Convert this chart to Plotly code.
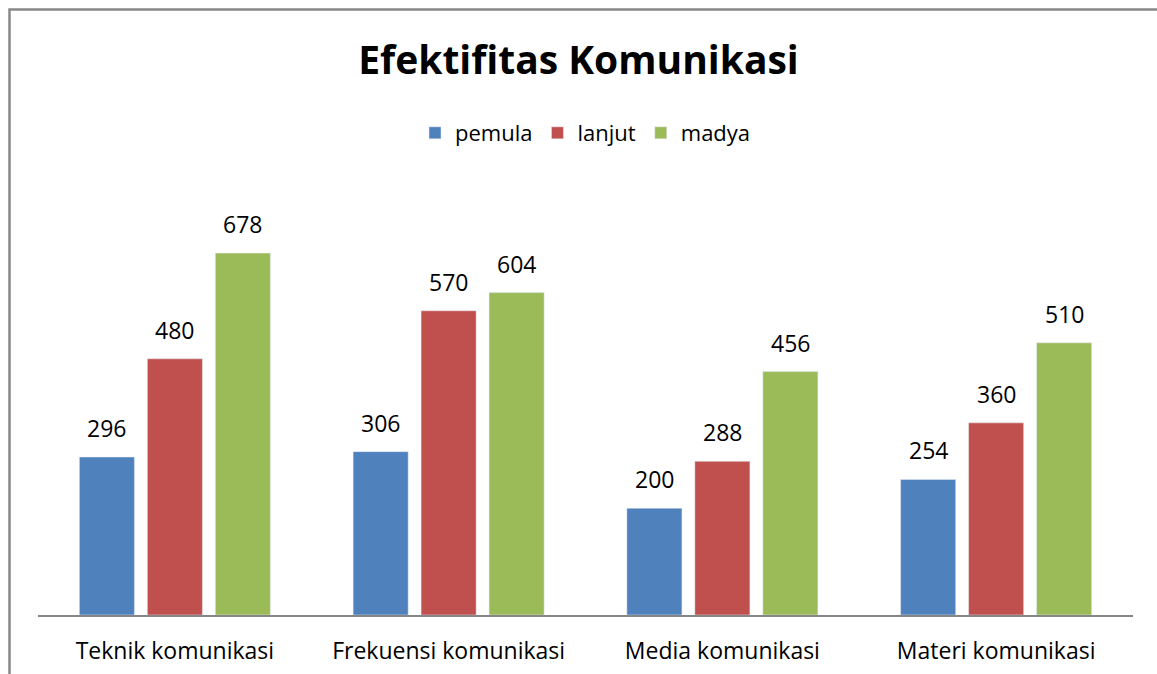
import plotly.graph_objects as go

categories = ["Teknik komunikasi", "Frekuensi komunikasi", "Media komunikasi", "Materi komunikasi"]
pemula = [296, 306, 200, 254]
lanjut = [480, 570, 288, 360]
madya = [678, 604, 456, 510]

FONT = "Open Sans"
W, H = 1157, 674
L, R, T, B = 38, 24, 188, 59

series = [("pemula", pemula, "#4F81BD"), ("lanjut", lanjut, "#C0504D"), ("madya", madya, "#9BBB59")]
shifts = [-68, 0, 68]

fig = go.Figure()
annotations = []
for (name, vals, col), xs in zip(series, shifts):
    fig.add_trace(go.Bar(x=categories, y=vals, name=name, marker_color=col))
    for c, v in zip(categories, vals):
        annotations.append(dict(x=c, y=v, xref="x", yref="y", text=str(v), showarrow=False,
                                xshift=xs, yshift=11, yanchor="bottom",
                                font=dict(family=FONT, size=23, color="#000000")))

pw = W - L - R
ph = H - T - B
fig.update_layout(
    width=W, height=H,
    margin=dict(l=L, r=R, t=T, b=B, autoexpand=False),
    paper_bgcolor="white", plot_bgcolor="white",
    barmode="group", bargap=0.255, bargroupgap=0.19,
    title=dict(text="<b>Efektifitas Komunikasi</b>", x=0.5, xanchor="center",
               y=1 - 60 / H, yanchor="middle",
               font=dict(family=FONT, size=39, color="#000000")),
    legend=dict(orientation="h", x=0.5, xanchor="center",
                y=(H - B - 133) / ph, yanchor="middle",
                font=dict(family=FONT, size=22, color="#000000"),
                itemwidth=30, traceorder="normal"),
    xaxis=dict(showline=True, linecolor="#868686", linewidth=2, ticks="",
               ticklabelstandoff=14, automargin=False,
               tickfont=dict(family=FONT, size=23, color="#000000"), showgrid=False),
    yaxis=dict(range=[0, 800], visible=False, showgrid=False, automargin=False),
    font=dict(family=FONT),
    annotations=annotations,
    shapes=[dict(type="rect", xref="paper", yref="paper",
                 x0=(9.5 - L) / pw, x1=(W + 20 - L) / pw,
                 y0=(H - B - (H + 20)) / ph, y1=(H - B - 9.5) / ph,
                 line=dict(color="#888888", width=2.5), layer="below")],
)
fig.write_html("out.html")
